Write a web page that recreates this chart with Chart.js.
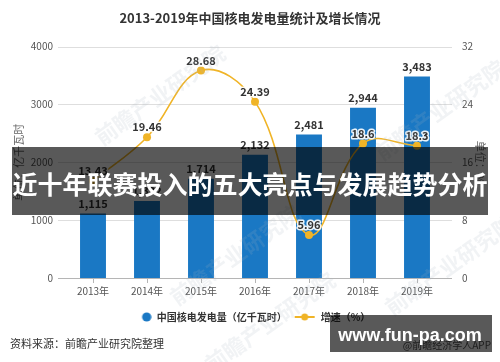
<!DOCTYPE html>
<html>
<head>
<meta charset="utf-8">
<script src="https://cdn.jsdelivr.net/npm/chart.js@4"></script>
<style>
  body { margin: 0; background: #fff; }
  canvas { display: block; }
</style>
</head>
<body>
<canvas id="chart" width="500" height="362"></canvas>
<script>
// data
const years = ['2013年', '2014年', '2015年', '2016年', '2017年', '2018年', '2019年'];
const output = [1115, 1332, 1714, 2132, 2481, 2944, 3483];     // 亿千瓦时
const growth = [13.43, 19.46, 28.68, 24.39, 5.96, 18.6, 18.3]; // %
const leftTicks = [0, 1000, 2000, 3000, 4000];
const rightTicks = [0, 8, 16, 24, 32];

const FONT = '"Noto Sans CJK SC", "Noto Sans", sans-serif';
const BLUE = '#1a78c4';
const GOLD = '#f0b427';

// legend icons
function icon(kind) {
    const c = document.createElement('canvas');
    c.width = 22; c.height = 10;
    const g = c.getContext('2d');
    if (kind === 'bar') {
        g.fillStyle = BLUE;
        g.beginPath(); g.arc(17, 5, 4.6, 0, Math.PI * 2); g.fill();
    } else {
        g.strokeStyle = GOLD; g.lineWidth = 2;
        g.beginPath(); g.moveTo(1, 5); g.lineTo(21, 5); g.stroke();
        g.fillStyle = GOLD;
        g.beginPath(); g.arc(11, 5, 3.5, 0, Math.PI * 2); g.fill();
    }
    return c;
}
const icons = [icon('bar'), icon('line')];

// horizontal grid lines a little wider than the plot, like the original
const gridPlugin = {
    id: 'grid',
    beforeDatasetsDraw(chart) {
        const ctx = chart.ctx;
        const y = chart.scales.y;
        const a = chart.chartArea;
        ctx.save();
        leftTicks.forEach(v => {
            const py = Math.round(y.getPixelForValue(v)) + 0.5;
            ctx.strokeStyle = v === 0 ? '#b5b5b5' : '#dedede';
            ctx.lineWidth = 1;
            ctx.beginPath();
            ctx.moveTo(a.left - 8, py);
            ctx.lineTo(a.right + 8, py);
            ctx.stroke();
        });
        ctx.restore();
    }
};

// value labels
const labelPlugin = {
    id: 'labels',
    afterDatasetsDraw(chart) {
        const ctx = chart.ctx;
        ctx.save();
        ctx.font = 'bold 11px ' + FONT;
        ctx.textAlign = 'center';
        ctx.textBaseline = 'middle';
        ctx.lineJoin = 'round';
        ctx.lineWidth = 3;
        ctx.strokeStyle = 'rgba(255,255,255,0.9)';
        ctx.fillStyle = '#333';
        chart.getDatasetMeta(0).data.forEach((bar, i) => {
            const t = output[i].toLocaleString('en-US');
            ctx.strokeText(t, bar.x, bar.y - 10);
            ctx.fillText(t, bar.x, bar.y - 10);
        });
        chart.getDatasetMeta(1).data.forEach((pt, i) => {
            const t = String(growth[i]);
            ctx.strokeText(t, pt.x, pt.y - 10);
            ctx.fillText(t, pt.x, pt.y - 10);
        });
        ctx.restore();
    }
};

// watermarks, banner and source line laid over the chart
const overlayPlugin = {
    id: 'overlay',
    afterDraw(chart) {
        const ctx = chart.ctx;
        ctx.save();

        // faint diagonal watermarks
        ctx.font = 'bold 22px ' + FONT;
        ctx.fillStyle = 'rgba(170,180,195,0.16)';
        [[160, 95], [440, 110], [235, 255], [450, 265], [270, 322]].forEach(p => {
            ctx.save();
            ctx.translate(p[0], p[1]);
            ctx.rotate(-0.62);
            ctx.textAlign = 'center';
            ctx.fillText('前瞻产业研究院', 0, 0);
            ctx.restore();
        });

        // source
        ctx.font = '11px ' + FONT;
        ctx.fillStyle = '#333';
        ctx.textAlign = 'left';
        ctx.textBaseline = 'middle';
        ctx.fillText('资料来源：前瞻产业研究院整理', 10, 344);
        ctx.font = '10px ' + FONT;
        ctx.fillStyle = '#555';
        ctx.textAlign = 'right';
        ctx.fillText('@前瞻经济学人APP', 491, 345);

        // banner
        ctx.fillStyle = 'rgba(0,0,0,0.65)';
        ctx.fillRect(12, 147, 476, 68);
        ctx.font = 'bold 25px ' + FONT;
        ctx.fillStyle = '#fff';
        ctx.textAlign = 'center';
        ctx.fillText('近十年联赛投入的五大亮点与发展趋势分析', 250, 184);

        // site box
        ctx.fillStyle = 'rgba(0,0,0,0.65)';
        ctx.fillRect(330, 315, 162, 37);
        ctx.font = 'bold 18px "Liberation Sans", Arial, sans-serif';
        ctx.fillStyle = '#fff';
        ctx.textAlign = 'center';
        ctx.textBaseline = 'alphabetic';
        ctx.fillText('www.fun-pa.com', 410, 341);

        ctx.restore();
    }
};

new Chart(document.getElementById('chart'), {
    type: 'bar',
    data: {
        labels: years,
        datasets: [{
            type: 'bar',
            label: '中国核电发电量（亿千瓦时）',
            data: output,
            yAxisID: 'y',
            backgroundColor: BLUE,
            barPercentage: 0.8,
            categoryPercentage: 0.6,
            order: 1
        }, {
            type: 'line',
            label: '增速（%）',
            data: growth,
            yAxisID: 'y1',
            borderColor: GOLD,
            backgroundColor: GOLD,
            borderWidth: 1.6,
            pointRadius: 4,
            pointBorderWidth: 0,
            tension: 0.4,
            order: 0
        }]
    },
    options: {
        responsive: false,
        animation: false,
        layout: { padding: { bottom: 30 } },
        scales: {
            x: {
                grid: { drawOnChartArea: false, offset: false, tickLength: 5, color: '#b5b5b5' },
                border: { display: false },
                ticks: { color: '#555', font: { size: 10, family: FONT }, padding: 2 },
                afterFit: s => { s.height = 27; }
            },
            y: {
                position: 'left',
                min: 0, max: 4000,
                afterBuildTicks: s => { s.ticks = leftTicks.map(v => ({ value: v })); },
                grid: { display: false, drawTicks: false },
                border: { display: false },
                ticks: { color: '#555', font: { size: 10, family: FONT }, padding: 13, callback: v => String(v) },
                title: { display: true, text: '单位：亿千瓦时', color: '#666', font: { size: 11, family: FONT }, padding: { top: 12, bottom: 0 } },
                afterFit: s => { s.width = 66; }
            },
            y1: {
                position: 'right',
                min: 0, max: 32,
                afterBuildTicks: s => { s.ticks = rightTicks.map(v => ({ value: v })); },
                grid: { display: false, drawTicks: false },
                border: { display: false },
                ticks: { color: '#555', font: { size: 10, family: FONT }, padding: 18 },
                title: { display: true, text: '单位：%', color: '#666', font: { size: 11, family: FONT }, padding: { top: 13, bottom: 0 } },
                afterFit: s => { s.width = 56; }
            }
        },
        plugins: {
            title: {
                display: true,
                text: '2013-2019年中国核电发电量统计及增长情况',
                color: '#333',
                font: { size: 13, weight: 'bold', family: FONT },
                padding: { top: 10, bottom: 21 }
            },
            legend: {
                position: 'bottom',
                labels: {
                    usePointStyle: true,
                    pointStyleWidth: 22,
                    boxHeight: 8,
                    padding: 7,
                    color: '#333',
                    font: { size: 10, weight: 'bold', family: FONT },
                    sort: (a, b) => a.datasetIndex - b.datasetIndex,
                    generateLabels: chart => {
                        const items = Chart.defaults.plugins.legend.labels.generateLabels(chart);
                        items.forEach(it => { it.pointStyle = icons[it.datasetIndex]; });
                        return items;
                    }
                }
            },
            tooltip: { enabled: false }
        }
    },
    plugins: [gridPlugin, labelPlugin, overlayPlugin]
});
</script>
</body>
</html>
